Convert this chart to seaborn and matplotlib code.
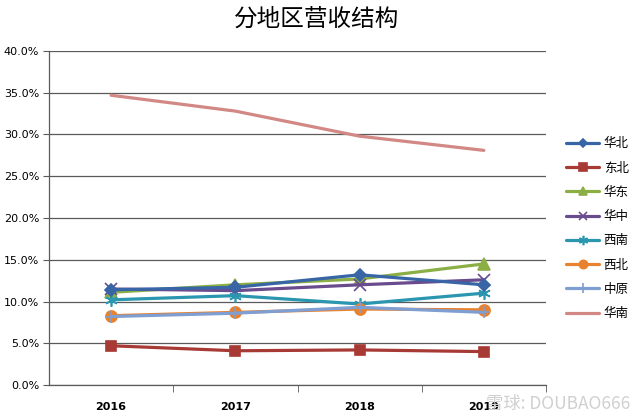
import matplotlib
matplotlib.use('Agg')
import matplotlib.pyplot as plt
from matplotlib.ticker import PercentFormatter, FixedLocator
import seaborn as sns
import pandas as pd

years = ['2016', '2017', '2018', '2019']
regions = ['华北', '东北', '华东', '华中', '西南', '西北', '中原', '华南']
huabei = [11.4, 11.7, 13.2, 12.0]
dongbei = [4.7, 4.1, 4.2, 4.0]
huadong = [11.1, 12.0, 12.7, 14.5]
huazhong = [11.5, 11.3, 12.0, 12.6]
xinan = [10.2, 10.7, 9.7, 11.0]
xibei = [8.3, 8.7, 9.1, 9.0]
zhongyuan = [8.2, 8.6, 9.3, 8.7]
huanan = [34.7, 32.8, 29.8, 28.1]
values = [huabei, dongbei, huadong, huazhong, xinan, xibei, zhongyuan, huanan]

colors = ['#3765A6', '#A83A36', '#8BAF44', '#6A4B8E', '#2B96AF', '#E9822F', '#7F9ED2', '#D28885']
markers = ['D', 's', '^', 'x', (6, 2, 0), 'o', '+', '']
msizes = [6, 7, 8, 8, 9, 8, 9, 0]

sns.set_style('white')
plt.rcParams['font.family'] = ['DejaVu Sans', 'Noto Sans CJK SC']
plt.rcParams['text.color'] = 'black'
plt.rcParams['xtick.color'] = 'black'
plt.rcParams['ytick.color'] = 'black'

df = pd.DataFrame([(r, y, v) for r, vals in zip(regions, values) for y, v in zip(years, vals)],
                  columns=['region', 'year', 'share'])

fig = plt.figure(figsize=(6.33, 4.19), dpi=100)
ax = fig.add_axes([49 / 633, 1 - 385 / 419, 497 / 633, 334 / 419])

for i, r in enumerate(regions):
    sub = df[df.region == r]
    sns.lineplot(data=sub, x='year', y='share', ax=ax, color=colors[i], lw=2.3,
                 marker=markers[i] if markers[i] else None, markersize=msizes[i],
                 markeredgecolor=colors[i], markeredgewidth=1.2, label=r, zorder=3 + (i == 0))

ax.set_xlim(-0.5, 3.5)
ax.set_ylim(0, 40)
ax.yaxis.set_major_locator(FixedLocator([0, 5, 10, 15, 20, 25, 30, 35, 40]))
ax.yaxis.set_major_formatter(PercentFormatter(decimals=1))
ax.grid(axis='y', color='#5a5a5a', lw=0.9)
ax.grid(axis='x', visible=False)
ax.set_xlabel('')
ax.set_ylabel('')
for s in ['top', 'right']:
    ax.spines[s].set_visible(False)
for s in ['left', 'bottom']:
    ax.spines[s].set_color('#5a5a5a')
    ax.spines[s].set_linewidth(0.9)

ax.tick_params(axis='y', labelsize=8, length=4, color='#5a5a5a', pad=3, left=True)
ax.tick_params(axis='x', which='major', labelsize=8, length=0, pad=12)
ax.set_xticks([0.5, 1.5, 2.5, 3.5], minor=True)
ax.tick_params(axis='x', which='minor', length=5, color='#5a5a5a', bottom=True)
for lab in ax.get_xticklabels():
    lab.set_fontweight('bold')

ax.get_legend().remove()
handles, labels = ax.get_legend_handles_labels()
fig.legend(handles, labels, loc='upper left', bbox_to_anchor=(555 / 633, 1 - 126 / 419),
           frameon=False, fontsize=9, handlelength=2.6, labelspacing=0.9,
           handletextpad=0.4, markerscale=0.75)

fig.text(0.5, 1 - 19 / 419, '分地区营收结构', ha='center', va='center', fontsize=17,
         family=['Noto Sans CJK SC'])
fig.text(630 / 633, 1 - 404 / 419, '雪球: DOUBAO666', ha='right', va='center',
         fontsize=12.5, color='#d0d0d0', family=['Noto Sans CJK SC', 'DejaVu Sans'])

fig.savefig('out.png', dpi=100)
